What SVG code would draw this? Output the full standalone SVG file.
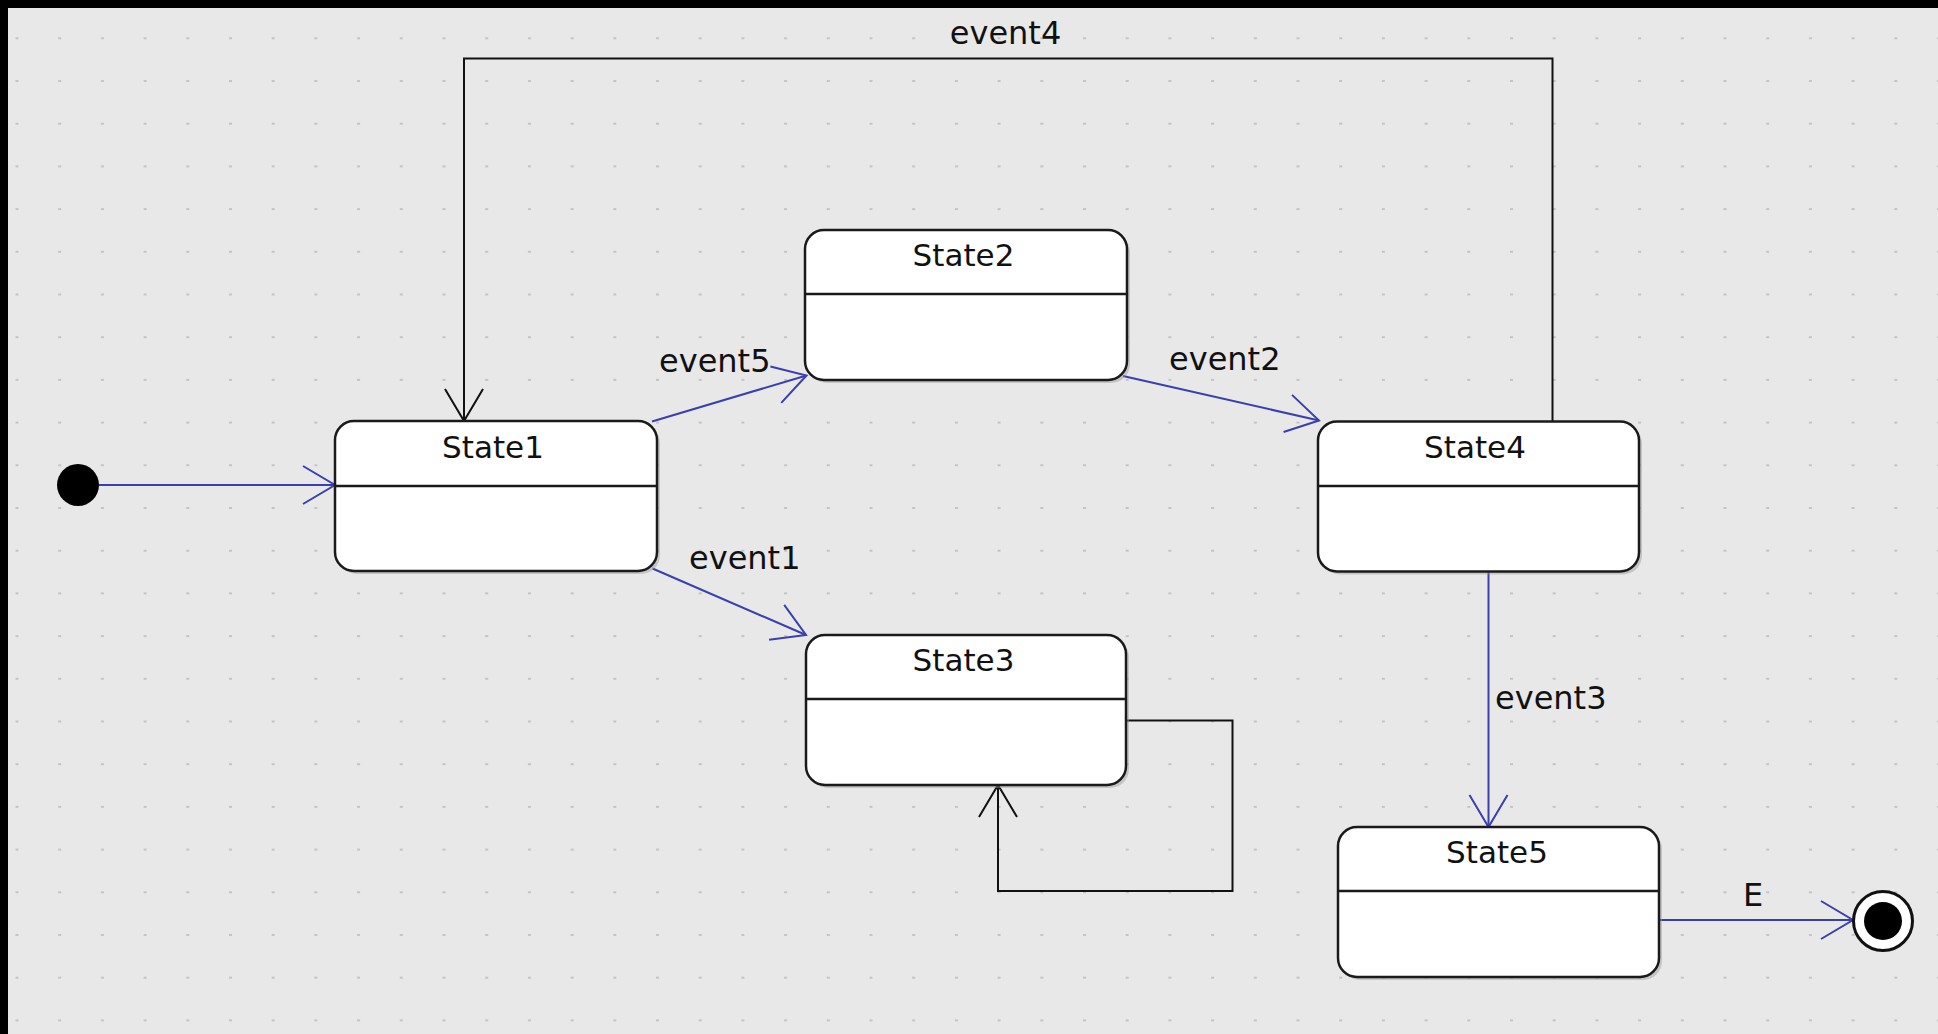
<svg xmlns="http://www.w3.org/2000/svg" width="1938" height="1034" viewBox="0 0 1938 1034">
<style>
.bg{fill:#e8e8e8}
.box{fill:#ffffff;stroke:#1a1a1a;stroke-width:2.5}
.shadow{fill:#9a9a9a;opacity:0.45}
.div{stroke:#1a1a1a;stroke-width:2.5}
.title{font-family:"DejaVu Sans","Liberation Sans",sans-serif;font-size:31px;fill:#111;text-anchor:middle}
.lbl{font-family:"DejaVu Sans","Liberation Sans",sans-serif;font-size:32px;fill:#111}
.blue{fill:none;stroke:#3a3fae;stroke-width:2}
.black{fill:none;stroke:#111;stroke-width:2}
</style>
<defs>
<pattern id="grid" patternUnits="userSpaceOnUse" x="15.5" y="37.3" width="42.7" height="42.7">
<rect x="0" y="0" width="3" height="2" fill="#c4c4c4"/>
</pattern>
<marker id="ab" markerUnits="userSpaceOnUse" viewBox="-34 -21 36 42" refX="0" refY="0" markerWidth="36" markerHeight="42" orient="auto" overflow="visible">
<path d="M-32,-19 L0,0 L-32,19" fill="none" stroke="#3a3fae" stroke-width="2"/>
</marker>
<marker id="ak" markerUnits="userSpaceOnUse" viewBox="-34 -21 36 42" refX="0" refY="0" markerWidth="36" markerHeight="42" orient="auto" overflow="visible">
<path d="M-32,-19 L0,0 L-32,19" fill="none" stroke="#111" stroke-width="2"/>
</marker>
</defs>
<rect x="0" y="0" width="1938" height="1034" fill="#000"/>
<rect class="bg" x="8" y="8" width="1930" height="1026"/>
<rect x="8" y="8" width="1930" height="1026" fill="url(#grid)"/>

<g id="connectors">
<line class="blue" x1="99" y1="485" x2="335" y2="485" marker-end="url(#ab)"/>
<polyline class="black" points="1552.5,421.5 1552.5,58.5 464,58.5 464,421" marker-end="url(#ak)"/>
<line class="blue" x1="652" y1="421.5" x2="806.5" y2="375.5" marker-end="url(#ab)"/>
<line class="blue" x1="1123" y1="376" x2="1319" y2="420.5" marker-end="url(#ab)"/>
<line class="blue" x1="652.5" y1="568.5" x2="806" y2="635" marker-end="url(#ab)"/>
<polyline class="black" points="1125,720.5 1232.5,720.5 1232.5,891 998,891 998,785" marker-end="url(#ak)"/>
<line class="blue" x1="1488.5" y1="571" x2="1488.5" y2="827" marker-end="url(#ab)"/>
<line class="blue" x1="1659" y1="920" x2="1853" y2="920" marker-end="url(#ab)"/>
<text class="lbl" x="1005.5" y="44" text-anchor="middle">event4</text>
<text class="lbl" x="659" y="372">event5</text>
<text class="lbl" x="1169" y="370">event2</text>
<text class="lbl" x="689" y="569">event1</text>
<text class="lbl" x="1495" y="709">event3</text>
<text class="lbl" x="1743" y="906">E</text>
</g>

<g id="initial">
<circle cx="78" cy="485" r="21" fill="#000"/>
</g>

<g id="state1">
<rect class="shadow" x="338" y="424" width="322" height="150" rx="19"/>
<rect class="box" x="335" y="421" width="322" height="150" rx="19"/>
<line class="div" x1="335" y1="486" x2="657" y2="486"/>
<text class="title" x="493" y="458">State1</text>
</g>

<g id="state2">
<rect class="shadow" x="808" y="233" width="322" height="150" rx="19"/>
<rect class="box" x="805" y="230" width="322" height="150" rx="19"/>
<line class="div" x1="805" y1="294" x2="1127" y2="294"/>
<text class="title" x="963.5" y="266">State2</text>
</g>

<g id="state3">
<rect class="shadow" x="809" y="638" width="320" height="150" rx="19"/>
<rect class="box" x="806" y="635" width="320" height="150" rx="19"/>
<line class="div" x1="806" y1="699" x2="1126" y2="699"/>
<text class="title" x="963.5" y="671">State3</text>
</g>

<g id="state4">
<rect class="shadow" x="1321" y="424.5" width="321" height="150" rx="19"/>
<rect class="box" x="1318" y="421.5" width="321" height="150" rx="19"/>
<line class="div" x1="1318" y1="486" x2="1639" y2="486"/>
<text class="title" x="1475" y="458">State4</text>
</g>

<g id="state5">
<rect class="shadow" x="1341" y="830" width="321" height="150" rx="19"/>
<rect class="box" x="1338" y="827" width="321" height="150" rx="19"/>
<line class="div" x1="1338" y1="891" x2="1659" y2="891"/>
<text class="title" x="1497" y="863">State5</text>
</g>

<g id="final">
<circle cx="1883" cy="921" r="29.5" fill="#fff" stroke="#111" stroke-width="3"/>
<circle cx="1883" cy="921" r="19" fill="#000"/>
</g>
</svg>
